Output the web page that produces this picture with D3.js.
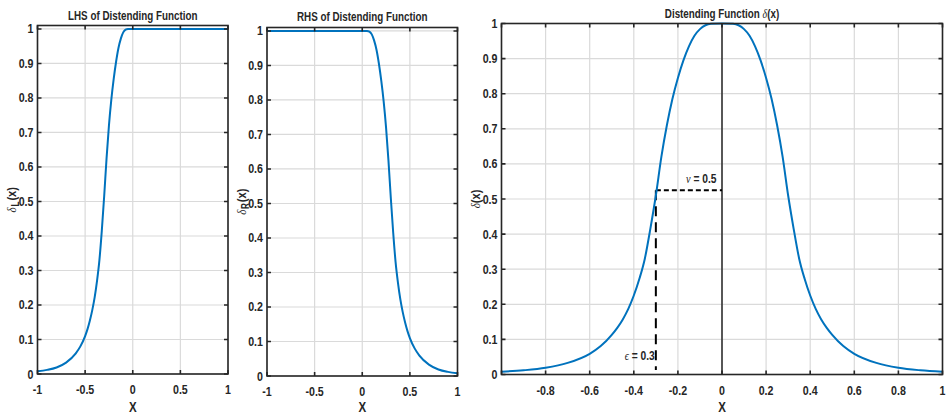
<!DOCTYPE html>
<html lang="en">
<head>
<meta charset="UTF-8">
<title>Distending Function</title>
<style>
  body { margin: 0; background: #fff; }
  svg text { font-family: 'Liberation Sans', Arial, sans-serif; font-weight: bold; fill: #262626; }
  svg text .greek { font-family: 'Liberation Serif', 'DejaVu Serif', serif; font-style: italic; font-weight: normal; }
</style>
</head>
<body>
<script src="https://d3js.org/d3.v7.min.js"></script>
<script>
// x positions the curves were read at (denser where the curves are steep)
let xs = [-1, -0.9, -0.8, -0.7, -0.6, -0.55, -0.5, -0.475, -0.45, -0.425, -0.4, -0.375, -0.35, -0.325, -0.3, -0.275, -0.25, -0.225, -0.2, -0.175, -0.15, -0.125, -0.1, -0.075, -0.05,
          0,
          0.05, 0.075, 0.1, 0.125, 0.15, 0.175, 0.2, 0.225, 0.25, 0.275, 0.3, 0.325, 0.35, 0.375, 0.4, 0.425, 0.45, 0.475, 0.5, 0.55, 0.6, 0.7, 0.8, 0.9, 1];

// distending function delta(x)
let deltaVals = [0.008, 0.012, 0.019, 0.033, 0.059, 0.081, 0.113, 0.133, 0.157, 0.187, 0.225, 0.272, 0.33, 0.415, 0.51, 0.62, 0.71, 0.785, 0.845, 0.895, 0.935, 0.965, 0.984, 0.995, 0.999,
                 1,
                 0.999, 0.995, 0.984, 0.965, 0.935, 0.895, 0.845, 0.785, 0.71, 0.62, 0.51, 0.415, 0.33, 0.272, 0.225, 0.187, 0.157, 0.133, 0.113, 0.081, 0.059, 0.033, 0.019, 0.012, 0.008];

// left hand side
let lhsVals = [0.008, 0.012, 0.019, 0.033, 0.059, 0.08, 0.11, 0.13, 0.155, 0.185, 0.222, 0.27, 0.33, 0.415, 0.515, 0.625, 0.72, 0.795, 0.855, 0.905, 0.945, 0.972, 0.99, 0.998, 1,
               1,
               1, 1, 1, 1, 1, 1, 1, 1, 1, 1, 1, 1, 1, 1, 1, 1, 1, 1, 1, 1, 1, 1, 1, 1, 1];

// right hand side
let rhsVals = [1, 1, 1, 1, 1, 1, 1, 1, 1, 1, 1, 1, 1, 1, 1, 1, 1, 1, 1, 1, 1, 1, 1, 1, 1,
               1,
               1, 0.998, 0.99, 0.972, 0.945, 0.905, 0.855, 0.795, 0.72, 0.625, 0.515, 0.415, 0.33, 0.27, 0.222, 0.185, 0.155, 0.13, 0.11, 0.08, 0.059, 0.033, 0.019, 0.012, 0.008];

// ticks
let yTicks = [0, 0.1, 0.2, 0.3, 0.4, 0.5, 0.6, 0.7, 0.8, 0.9, 1];
let sideXTicks = [-1, -0.5, 0, 0.5, 1];
let mainXTicks = [-1, -0.8, -0.6, -0.4, -0.2, 0, 0.2, 0.4, 0.6, 0.8, 1];
let mainXLabels = ['', '-0.8', '-0.6', '-0.4', '-0.2', '0', '0.2', '0.4', '0.6', '0.8', '1'];

// annotation values
let epsilon = -0.3, nu = 0.525, epsLineEnd = 0.013;

let width = 946, height = 414;
let lineColor = '#0072BD', axisColor = '#262626', gridColor = '#dadada';
let narrow = ' scale(0.82,1)';   // fake a narrow face

let svg = d3.select('body')
    .append('svg')
    .attr('width', width)
    .attr('height', height);

// layout of the three axes boxes
let panels = [
    {left: 37.5, right: 228, top: 25.5, bottom: 374, yMax: 1.01, vals: lhsVals, ticks: sideXTicks, labels: sideXTicks.map(String),
     title: 'LHS of Distending Function', titleY: 19.5, titleSize: 12, sub: 'L', ylabX: 16},
    {left: 267, right: 457.5, top: 27.5, bottom: 376, yMax: 1.01, vals: rhsVals, ticks: sideXTicks, labels: sideXTicks.map(String),
     title: 'RHS of Distending Function', titleY: 20.5, titleSize: 12, sub: 'R', ylabX: 246},
    {left: 501.5, right: 942.5, top: 23.5, bottom: 374.5, yMax: 1, vals: deltaVals, ticks: mainXTicks, labels: mainXLabels,
     title: 'Distending Function ', titleY: 17.5, titleSize: 12, sub: null, ylabX: 480}
];

function tr(x, y) { return 'translate(' + x + ',' + y + ')' + narrow; }

panels.forEach(function(p, i) {
    let x = d3.scaleLinear().domain([-1, 1]).range([p.left, p.right]);
    let y = d3.scaleLinear().domain([0, p.yMax]).range([p.bottom, p.top]);
    let g = svg.append('g');
    p.x = x; p.y = y; p.g = g;

    // grid
    g.selectAll('.vg').data(p.ticks).enter().append('line')
        .attr('x1', d => x(d)).attr('x2', d => x(d))
        .attr('y1', p.top).attr('y2', p.bottom)
        .attr('stroke', gridColor).attr('stroke-width', 1.2);
    g.selectAll('.hg').data(yTicks).enter().append('line')
        .attr('x1', p.left).attr('x2', p.right)
        .attr('y1', d => y(d)).attr('y2', d => y(d))
        .attr('stroke', gridColor).attr('stroke-width', 1.2);

    // zero line and dashed markers on the big plot
    if (i === 2) {
        g.append('line')
            .attr('x1', x(0)).attr('x2', x(0))
            .attr('y1', y(0)).attr('y2', y(1))
            .attr('stroke', axisColor).attr('stroke-width', 1.5);
        g.append('line')
            .attr('x1', x(epsilon)).attr('x2', x(0))
            .attr('y1', y(nu)).attr('y2', y(nu))
            .attr('stroke', '#000').attr('stroke-width', 2).attr('stroke-dasharray', '5,3');
        g.append('line')
            .attr('x1', x(epsilon)).attr('x2', x(epsilon))
            .attr('y1', y(nu)).attr('y2', y(epsLineEnd))
            .attr('stroke', '#000').attr('stroke-width', 2).attr('stroke-dasharray', '10,6');
    }

    // the curve
    let line = d3.line()
        .x((d, j) => x(xs[j]))
        .y(d => y(d))
        .curve(d3.curveMonotoneX);
    g.append('path')
        .datum(p.vals)
        .attr('d', line)
        .attr('fill', 'none')
        .attr('stroke', lineColor)
        .attr('stroke-width', 2);

    // box
    g.append('rect')
        .attr('x', p.left).attr('y', p.top)
        .attr('width', p.right - p.left).attr('height', p.bottom - p.top)
        .attr('fill', 'none').attr('stroke', axisColor).attr('stroke-width', 1.6);

    // inside ticks on all four sides
    let tl = 4;
    g.selectAll('.tb').data(p.ticks).enter().append('path')
        .attr('d', d => 'M' + x(d) + ',' + p.bottom + 'v' + (-tl) + 'M' + x(d) + ',' + p.top + 'v' + tl)
        .attr('stroke', axisColor).attr('stroke-width', 1.6);
    g.selectAll('.tl').data(yTicks).enter().append('path')
        .attr('d', d => 'M' + p.left + ',' + y(d) + 'h' + tl + 'M' + p.right + ',' + y(d) + 'h' + (-tl))
        .attr('stroke', axisColor).attr('stroke-width', 1.6);

    // tick labels
    g.selectAll('.xl').data(p.ticks).enter().append('text')
        .attr('transform', d => tr(x(d), p.bottom + 20))
        .attr('text-anchor', 'middle')
        .attr('font-size', '13px')
        .text((d, j) => p.labels[j]);
    g.selectAll('.yl').data(yTicks).enter().append('text')
        .attr('transform', d => tr(p.left - 4, y(d) + 4.5))
        .attr('text-anchor', 'end')
        .attr('font-size', '13px')
        .text(d => String(d));

    // x label
    g.append('text')
        .attr('transform', tr(x(0), 411.5))
        .attr('text-anchor', 'middle')
        .attr('font-size', '14px')
        .text('X');

    // y label
    let cy = (p.top + p.bottom) / 2;
    let yl = g.append('text')
        .attr('transform', 'translate(' + p.ylabX + ',' + cy + ') rotate(-90)' + narrow)
        .attr('text-anchor', 'middle')
        .attr('font-size', '13.5px');
    yl.append('tspan').attr('class', 'greek').text('δ');
    if (p.sub) {
        yl.append('tspan').attr('dx', 1).attr('dy', 3).attr('font-size', '10px').text(p.sub);
        yl.append('tspan').attr('dx', 1).attr('dy', -3).text('(x)');
    } else {
        yl.append('tspan').text('(x)');
    }

    // title
    let t = g.append('text')
        .attr('transform', tr((p.left + p.right) / 2, p.titleY))
        .attr('text-anchor', 'middle')
        .attr('font-size', p.titleSize + 'px')
        .text(p.title);
    if (i === 2) {
        t.append('tspan').attr('class', 'greek').text('δ');
        t.append('tspan').text('(x)');
    }
});

// annotation text on the big plot
let big = panels[2];
big.g.append('text')
    .attr('transform', tr(big.x(-0.025), big.y(0.545)))
    .attr('text-anchor', 'end')
    .attr('font-size', '12.5px')
    .call(function(t) {
        t.append('tspan').attr('class', 'greek').text('ν');
        t.append('tspan').text(' = 0.5');
    });
big.g.append('text')
    .attr('transform', tr(big.x(-0.305), big.y(0.04)))
    .attr('text-anchor', 'end')
    .attr('font-size', '12.5px')
    .call(function(t) {
        t.append('tspan').attr('class', 'greek').text('ϵ');
        t.append('tspan').text(' = 0.3');
    });
</script>
</body>
</html>
